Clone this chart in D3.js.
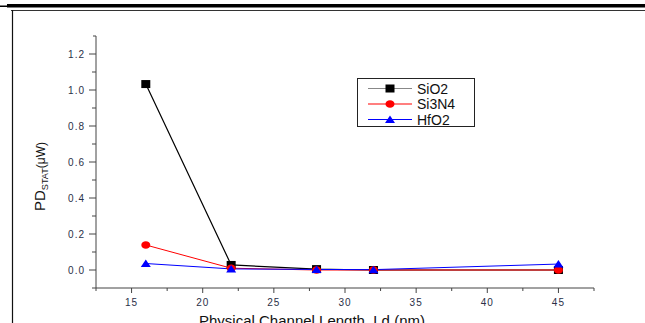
<!DOCTYPE html>
<html><head><meta charset="utf-8">
<script src="https://cdn.jsdelivr.net/npm/d3@7/dist/d3.min.js"></script>
<style>body{margin:0;background:#fff}svg{display:block}text{font-family:"Liberation Sans",Arial,sans-serif}</style>
</head><body><svg id="c" width="645" height="323"></svg>
<script>
const lengths = [16, 22, 28, 32, 45];
const sio2 = [1.033, 0.028, 0.005, 0.0, 0.0];
const si3n4 = [0.139, 0.01, 0.0, 0.0, 0.0];
const hfo2 = [0.036, 0.006, 0.003, 0.002, 0.033];
const seriesNames = ["SiO2", "Si3N4", "HfO2"];
const xTicks = [15, 20, 25, 30, 35, 40, 45];
const yTicks = [0.0, 0.2, 0.4, 0.6, 0.8, 1.0, 1.2];

const svg = d3.select("#c");
// frame
svg.append("rect").attr("x",7).attr("y",4).attr("width",638).attr("height",3.5).attr("fill","#000");
svg.append("rect").attr("x",0).attr("y",5.5).attr("width",7).attr("height",1.5).attr("fill","#000");
svg.append("line").attr("x1",11).attr("x2",645).attr("y1",10.5).attr("y2",10.5).attr("stroke","#333").attr("stroke-width",1);
svg.append("line").attr("x1",12.5).attr("x2",12.5).attr("y1",10).attr("y2",323).attr("stroke","#111").attr("stroke-width",1.2);

const x = d3.scaleLinear().domain([12.5, 47.5]).range([96, 594]);
const y = d3.scaleLinear().domain([-0.1, 1.3]).range([288, 36]);

const axCol = "#444";
// x axis
const xa = svg.append("g").attr("transform","translate(0,288)");
xa.append("line").attr("x1",x(12.5)).attr("x2",x(47.5)).attr("stroke",axCol);
d3.range(12.5, 47.6, 2.5).forEach(v=>{
  const major = xTicks.includes(v);
  xa.append("line").attr("x1",x(v)).attr("x2",x(v)).attr("y1",0).attr("y2",major?5:3).attr("stroke",axCol);
});
xTicks.forEach(v=>xa.append("text").attr("x",x(v)).attr("y",18).attr("text-anchor","middle")
  .attr("font-size",10).attr("letter-spacing",1).attr("fill","#2a3048").text(v));
// y axis
const ya = svg.append("g").attr("transform","translate(96,0)");
ya.append("line").attr("y1",y(-0.1)).attr("y2",y(1.3)).attr("stroke",axCol);
ya.append("line").attr("x1",0).attr("x2",-3).attr("y1",y(1.3)).attr("y2",y(1.3)).attr("stroke",axCol);
d3.range(-1, 13).forEach(i=>{
  const v = i/10;
  const major = i%2===0 && i>=0;
  ya.append("line").attr("x1",0).attr("x2",major?-7:-4).attr("y1",y(v)).attr("y2",y(v)).attr("stroke",axCol);
});
yTicks.forEach(v=>ya.append("text").attr("x",-11).attr("y",y(v)+3.5).attr("text-anchor","end")
  .attr("font-size",10).attr("letter-spacing",1).attr("fill","#2a3048").text(v.toFixed(1)));

// axis titles
const yt = svg.append("text").attr("transform","translate(45,211) rotate(-90)").attr("fill","#111");
yt.append("tspan").attr("font-size",15).text("PD");
yt.append("tspan").attr("font-size",9).attr("dy",3).attr("textLength",22).attr("lengthAdjust","spacingAndGlyphs").text("STAT");
yt.append("tspan").attr("font-size",12).attr("dy",-3).text("(μW)");
svg.append("text").attr("x",199).attr("y",326).attr("font-size",15).attr("fill","#111").text("Physical Channel Length, Ld (nm)");

const colors = ["#000", "#ff0000", "#0000ff"];
const data = [sio2, si3n4, hfo2];
const line = d3.line().x(d=>x(d[0])).y(d=>y(d[1]));
data.forEach((vals,i)=>{
  const pts = lengths.map((l,j)=>[l, vals[j]]);
  svg.append("path").attr("d",line(pts)).attr("fill","none").attr("stroke",colors[i]).attr("stroke-width",i===0?1.2:1);
});
function marker(g, type, cx, cy, col){
  if(type===0) g.append("rect").attr("x",cx-4.5).attr("y",cy-4).attr("width",9).attr("height",8).attr("fill",col);
  else if(type===1) g.append("ellipse").attr("cx",cx).attr("cy",cy).attr("rx",4.5).attr("ry",3.8).attr("fill",col);
  else g.append("path").attr("d",`M${cx-5},${cy+3.5}L${cx+5},${cy+3.5}L${cx},${cy-4}Z`).attr("fill",col);
}
const mg = svg.append("g");
data.forEach((vals,i)=>{
  lengths.forEach((l,j)=>marker(mg, i, x(l), y(vals[j]), colors[i]));
});

// legend
const lg = svg.append("g");
lg.append("rect").attr("x",357.5).attr("y",78.5).attr("width",117).attr("height",48).attr("fill","#fff").attr("stroke","#222");
const legLine = ["#888", "#ff0000", "#0000ff"];
seriesNames.forEach((n,i)=>{
  const yy = 88.5 + i*15.5;
  lg.append("line").attr("x1",368).attr("x2",412).attr("y1",yy).attr("y2",yy).attr("stroke",legLine[i]).attr("stroke-width",1.2);
  marker(lg, i, 390, yy, colors[i]);
  lg.append("text").attr("x",417).attr("y",yy+5).attr("font-size",14).attr("fill","#111").text(n);
});
</script></body></html>
